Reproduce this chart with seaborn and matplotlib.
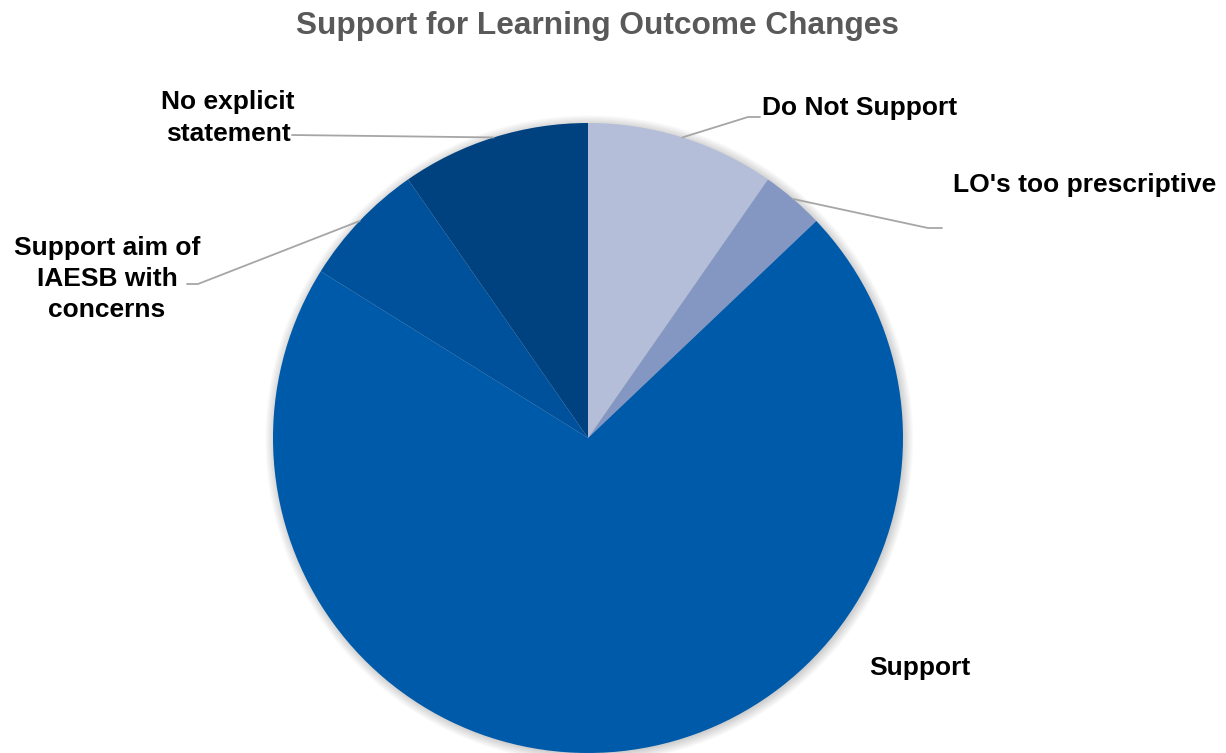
import matplotlib
matplotlib.use("Agg")
import matplotlib.pyplot as plt
import matplotlib.patches as mpatches
import numpy as np
import seaborn as sns

sns.set_theme(style="white")
plt.rcParams['font.family'] = ['Liberation Sans', 'DejaVu Sans']

# ---- data ----
categories = ["Do Not Support", "LO's too prescriptive", "Support",
              "Support aim of\nIAESB with\nconcerns", "No explicit\nstatement"]
counts = [3, 1, 22, 2, 3]
colors = ["#B4BED8", "#8497C3", "#005AAA", "#00519B", "#004280"]
title = "Support for Learning Outcome Changes"

W, H = 1226, 753
fig = plt.figure(figsize=(W / 100, H / 100), dpi=100)
fig.patch.set_facecolor("white")

cx, cy, R = 588, 438, 315  # pixel layout of the pie
ax = fig.add_axes([(cx - R) / W, (H - cy - R) / H, 2 * R / W, 2 * R / H])
ax.axis("off")

# soft shadow
for i in range(8):
    ax.add_patch(mpatches.Circle((0.004, -0.004), 1 + 0.004 * i, color="black",
                                 alpha=0.025, lw=0, zorder=0, clip_on=False))

wedges, _ = ax.pie(counts, colors=colors, startangle=90, counterclock=False,
                   radius=1, wedgeprops=dict(linewidth=0, zorder=2))
ax.set_xlim(-1, 1)
ax.set_ylim(-1, 1)
ax.set_aspect("equal")
ax.axis("off")


def p2d(px, py):
    return ((px - cx) / R, (cy - py) / R)


def anchor(w):
    t = np.deg2rad((w.theta1 + w.theta2) / 2)
    return (np.cos(t), np.sin(t))


label_pos = [(860, 108), (1085, 185), (920, 668), (107, 279), (228, 118)]
leader_pts = [[(748, 117), (760, 117)],
              [(928, 228), (942, 228)],
              None,
              [(198, 284), (187, 284)],
              [(292, 135)]]

for w, lab, pos, pts in zip(wedges, categories, label_pos, leader_pts):
    x, y = p2d(*pos)
    ax.text(x, y, lab, ha="center", va="center", fontsize=19, fontweight="bold",
            color="black", linespacing=1.38, clip_on=False, zorder=5)
    if pts:
        a = anchor(w)
        xs = [a[0]] + [p2d(*p)[0] for p in pts]
        ys = [a[1]] + [p2d(*p)[1] for p in pts]
        ax.plot(xs, ys, color="#A6A6A6", lw=1.3, clip_on=False, zorder=4)

fig.text(597 / W, 1 - 26 / H, title, ha="center", va="center", fontsize=22.8,
         fontweight="bold", color="#595959")

fig.savefig("out.png", dpi=100, facecolor="white")
